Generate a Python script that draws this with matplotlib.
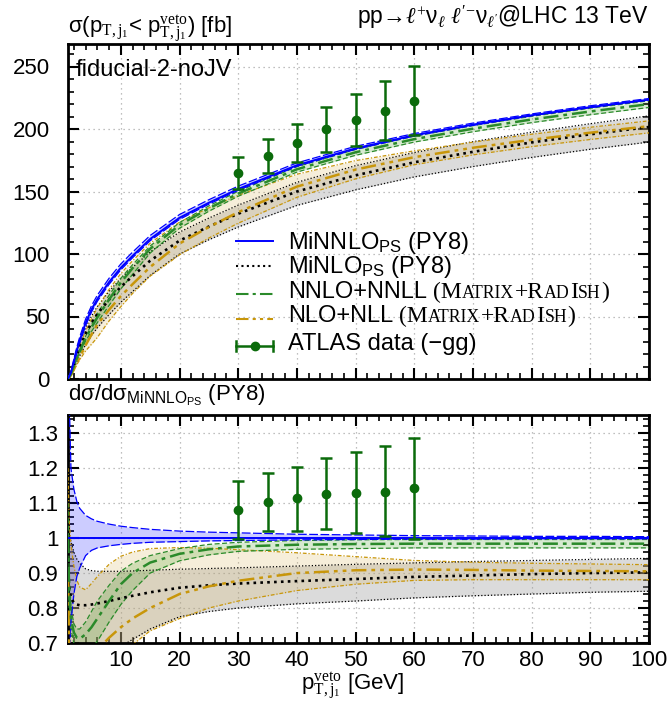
import numpy as np
import matplotlib
matplotlib.use("Agg")
import matplotlib.pyplot as plt
from matplotlib.lines import Line2D
from matplotlib.ticker import MultipleLocator, FuncFormatter

plt.rcParams['font.family'] = ['Liberation Sans', 'DejaVu Sans']
plt.rcParams['mathtext.fontset'] = 'custom'
plt.rcParams['mathtext.rm'] = 'Liberation Serif'
plt.rcParams['mathtext.it'] = 'Liberation Serif:italic'
plt.rcParams['mathtext.sf'] = 'Liberation Sans'
plt.rcParams['mathtext.bf'] = 'Liberation Serif:bold'

# ---------------- data ----------------
pt_veto = [1.0, 1.2, 1.5, 2, 2.5, 3, 4, 5, 6, 8, 10, 12, 15, 20, 25, 30, 40, 50, 60, 70, 80, 90, 100]

# MiNNLO_PS (PY8) central cross section [fb]
minnlo_sigma = [0.3, 2, 5, 14, 23, 31, 45, 55.5, 64, 77.5, 89, 98.5, 112, 129, 141, 152, 171, 184.5, 195, 203.5, 211, 217.5, 223.5]
# ratios to MiNNLO_PS central
minnlo_up = [1.6, 1.4, 1.2, 1.14, 1.105, 1.085, 1.065, 1.055, 1.048, 1.04, 1.034, 1.03, 1.025, 1.02, 1.017, 1.015, 1.011, 1.009, 1.007, 1.006, 1.005, 1.005, 1.004]
minnlo_lo = [0.5, 0.65, 0.76, 0.84, 0.89, 0.915, 0.95, 0.965, 0.972, 0.978, 0.982, 0.985, 0.988, 0.99, 0.992, 0.993, 0.995, 0.996, 0.997, 0.997, 0.998, 0.998, 0.998]

minlo_c = [0.9, 0.86, 0.83, 0.815, 0.81, 0.808, 0.808, 0.81, 0.813, 0.82, 0.828, 0.835, 0.845, 0.858, 0.865, 0.87, 0.877, 0.883, 0.889, 0.893, 0.897, 0.9, 0.902]
minlo_up = [1.05, 1.01, 0.99, 0.96, 0.94, 0.928, 0.912, 0.907, 0.905, 0.905, 0.905, 0.906, 0.908, 0.911, 0.913, 0.915, 0.92, 0.925, 0.929, 0.933, 0.936, 0.939, 0.942]
minlo_lo = [0.6, 0.6, 0.6, 0.6, 0.6, 0.6, 0.61, 0.625, 0.64, 0.665, 0.69, 0.71, 0.74, 0.775, 0.79, 0.8, 0.812, 0.82, 0.829, 0.835, 0.84, 0.845, 0.848]

nnll_c = [1.0, 0.85, 0.77, 0.73, 0.715, 0.712, 0.725, 0.745, 0.77, 0.82, 0.868, 0.9, 0.93, 0.955, 0.968, 0.976, 0.981, 0.983, 0.984, 0.984, 0.984, 0.984, 0.984]
nnll_up = [1.1, 0.9, 0.8, 0.755, 0.74, 0.74, 0.76, 0.79, 0.82, 0.865, 0.905, 0.928, 0.95, 0.97, 0.982, 0.988, 0.993, 0.995, 0.996, 0.996, 0.996, 0.996, 0.996]
nnll_lo = [0.9, 0.8, 0.74, 0.7, 0.685, 0.68, 0.675, 0.685, 0.705, 0.76, 0.81, 0.85, 0.9, 0.935, 0.952, 0.962, 0.968, 0.97, 0.972, 0.972, 0.972, 0.972, 0.972]

nll_c = [0.9, 0.7, 0.6, 0.55, 0.55, 0.56, 0.6, 0.64, 0.68, 0.715, 0.745, 0.77, 0.8, 0.84, 0.862, 0.878, 0.9, 0.908, 0.91, 0.909, 0.907, 0.906, 0.905]
nll_up = [1.2, 1.05, 0.98, 0.92, 0.88, 0.86, 0.852, 0.87, 0.89, 0.925, 0.948, 0.96, 0.97, 0.973, 0.971, 0.967, 0.958, 0.947, 0.936, 0.931, 0.928, 0.926, 0.924]
nll_lo = [0.6, 0.5, 0.5, 0.5, 0.5, 0.5, 0.5, 0.5, 0.52, 0.6, 0.65, 0.695, 0.735, 0.77, 0.80, 0.82, 0.85, 0.868, 0.879, 0.881, 0.881, 0.881, 0.881]

# ATLAS data (-gg)
atlas_x = [30, 35, 40, 45, 50, 55, 60]
atlas_y = [165, 178.5, 189, 200, 207, 214.5, 222.8]
atlas_hi = [177.7, 192.4, 204.4, 217.7, 227.9, 238.5, 250.5]
atlas_lo = [152.4, 165, 173.7, 181.7, 186.3, 191, 195]
atlas_r = [1.08, 1.103, 1.114, 1.127, 1.128, 1.132, 1.143]
atlas_r_hi = [1.164, 1.186, 1.202, 1.228, 1.245, 1.263, 1.287]
atlas_r_lo = [0.998, 1.02, 1.021, 1.025, 1.015, 1.005, 0.998]

# ---------------- styles ----------------
BLUE = '#0000ff'
GREEN = '#2a8a2a'
ORANGE = '#c8960a'
DGREEN = '#0b6b0b'

W, H = 672, 704
fig = plt.figure(figsize=(W / 100, H / 100), dpi=100)
L, R = 68, 649
ax1 = fig.add_axes([L / W, 1 - 379 / H, (R - L) / W, (379 - 44) / H])
ax2 = fig.add_axes([L / W, 1 - 643 / H, (R - L) / W, (643 - 415) / H])

x = np.array(pt_veto)
cen = np.array(minnlo_sigma)

bands = [
    # (lo, central, hi, fillcolor, alpha, color, central ls, lw, edge ls, zorder)
    (minlo_lo, minlo_c, minlo_up, '#999999', 0.35, 'black', (0, (1, 1.6)), 1.9, (0, (1, 1.6)), 1.0),
    (nll_lo, nll_c, nll_up, '#d9b35a', 0.22, ORANGE, (0, (6, 2, 1.5, 2, 1.5, 2)), 1.8, (0, (3, 1.5, 1, 1.5)), 1.1),
    (nnll_lo, nnll_c, nnll_up, '#3a9a1a', 0.2, GREEN, (0, (6, 2, 1.5, 2)), 1.8, (0, (4, 2)), 1.2),
    (minnlo_lo, [1.0] * len(pt_veto), minnlo_up, '#0000ff', 0.2, BLUE, '-', 1.4, (0, (7, 2)), 1.3),
]

for ax, top in ((ax1, True), (ax2, False)):
    f = cen if top else np.ones_like(cen)
    for lo, c, hi, fc, al, col, cls, clw, els, z in bands:
        lo = np.array(lo) * f
        hi = np.array(hi) * f
        c = np.array(c) * f
        ax.fill_between(x, lo, hi, color=fc, alpha=al, lw=0, zorder=z)
        ax.plot(x, lo, color=col, ls=els, lw=0.9, zorder=z + 2)
        ax.plot(x, hi, color=col, ls=els, lw=0.9, zorder=z + 2)
        ax.plot(x, c, color=col, ls=cls, lw=clw, zorder=z + 3)

ya = np.array(atlas_y)
ax1.errorbar(atlas_x, ya, yerr=[ya - np.array(atlas_lo), np.array(atlas_hi) - ya], fmt='o', color=DGREEN,
             ms=6, capsize=4, elinewidth=1.8, capthick=1.8, zorder=10)
yr = np.array(atlas_r)
ax2.errorbar(atlas_x, yr, yerr=[yr - np.array(atlas_r_lo), np.array(atlas_r_hi) - yr], fmt='o', color=DGREEN,
             ms=6, capsize=4, elinewidth=1.8, capthick=1.8, zorder=10)

# ---------------- axes ----------------
for ax in (ax1, ax2):
    ax.set_xlim(1, 100)
    ax.xaxis.set_major_locator(MultipleLocator(10))
    ax.xaxis.set_minor_locator(MultipleLocator(2))
    ax.tick_params(which='both', direction='in', top=True, right=True, labelsize=16)
    ax.tick_params(which='major', length=8, width=1.5)
    ax.tick_params(which='minor', length=4, width=1.2)
    for s in ax.spines.values():
        s.set_linewidth(2)
    ax.grid(True, which='major', color='#aaaaaa', ls=(0, (1, 3)), lw=0.9, zorder=0)
    ax.set_axisbelow(True)

ax1.set_ylim(0, 268)
ax1.yaxis.set_major_locator(MultipleLocator(50))
ax1.yaxis.set_minor_locator(MultipleLocator(10))
ax1.tick_params(labelbottom=False)
ax1.tick_params(axis='y', pad=13)

ax2.set_ylim(0.7, 1.352)
ax2.yaxis.set_major_locator(MultipleLocator(0.1))
ax2.yaxis.set_minor_locator(MultipleLocator(0.02))
ax2.yaxis.set_major_formatter(FuncFormatter(lambda v, p: f'{v:.10g}' if abs(v - round(v, 1)) < 1e-9 else ''))
ax2.xaxis.set_major_formatter(FuncFormatter(lambda v, p: f'{v:g}'))
ax2.tick_params(axis='y', pad=7)
ax2.tick_params(axis='x', pad=5)

# ---------------- texts ----------------
FS = 16
LFS = 17
fig.text(L / W, 1 - 32.5 / H, r'σ(p$_{\mathrm{T,j_1}}$< p$^{\mathrm{veto}}_{\mathrm{T,j_1}}$) [fb]',
         ha='left', va='baseline', fontsize=FS)
fig.text(R / W, 1 - 25 / H, r"pp→$\ell^{+}\mathsf{\nu}_{\ell}\ \ell'^{-}\mathsf{\nu}_{\ell'}$@LHC 13 TeV",
         ha='right', va='baseline', fontsize=FS + 0.5)
fig.text(76 / W, 1 - 75.5 / H, 'fiducial-2-noJV', ha='left', va='baseline', fontsize=LFS)
fig.text(L / W, 1 - 401 / H, r'dσ/dσ$_{\mathsf{MiNNLO}_{\mathsf{PS}}}$ (PY8)', ha='left', va='baseline', fontsize=FS)
fig.text(353 / W, 1 - 690 / H, r'p$^{\mathrm{veto}}_{\mathrm{T,j_1}}$ [GeV]', ha='center', va='baseline', fontsize=FS)

# ---------------- legend (manual) ----------------
renderer = fig.canvas.get_renderer()


def seq_text(x0, yb, pieces):
    xx = x0
    for s, kw, gap in pieces:
        xx += gap
        t = fig.text(xx / W, 1 - yb / H, s, ha='left', va='baseline', **kw)
        bb = t.get_window_extent(renderer)
        xx = bb.x1


sans = dict(fontsize=LFS)
serL = dict(fontsize=LFS, family='Liberation Serif')
serS = dict(fontsize=LFS * 0.75, family='Liberation Serif')
smallcaps = [('(M', serL, 6), ('ATRIX', serS, 0.3), ('+R', serL, 0.3), ('AD', serS, 0.3),
             ('I', serL, 0.3), ('SH', serS, 0.3), (')', serL, 0.5)]

lx0, lx1, tx = 236, 273, 288
rows = [
    (249, 241, dict(color=BLUE, ls='-', lw=1.4), [(r'MiNNLO$_{\mathsf{PS}}$ (PY8)', sans, 0)]),
    (273, 266, dict(color='black', ls=(0, (1, 1.6)), lw=1.5), [(r'MiNLO$_{\mathsf{PS}}$ (PY8)', sans, 0)]),
    (298, 294, dict(color=GREEN, ls=(0, (6, 2, 1.5, 2)), lw=1.5), [('NNLO+NNLL', sans, 0)] + smallcaps),
    (322, 319, dict(color=ORANGE, ls=(0, (6, 2, 1.5, 2, 1.5, 2)), lw=1.5), [('NLO+NLL', sans, 0)] + smallcaps),
]
for yb, yl, st, pieces in rows:
    fig.add_artist(Line2D([lx0 / W, lx1 / W], [1 - yl / H, 1 - yl / H], transform=fig.transFigure, **st))
    seq_text(tx, yb, pieces)

# ATLAS legend entry
yl = 346
fig.add_artist(Line2D([lx0 / W, lx1 / W], [1 - yl / H] * 2, transform=fig.transFigure, color=DGREEN, lw=1.8))
for xc in (lx0, lx1):
    fig.add_artist(Line2D([xc / W] * 2, [1 - (yl - 5) / H, 1 - (yl + 5) / H], transform=fig.transFigure,
                          color=DGREEN, lw=1.8))
fig.add_artist(Line2D([(lx0 + lx1) / 2 / W], [1 - yl / H], transform=fig.transFigure, color=DGREEN,
                      marker='o', ms=6, ls='none'))
seq_text(tx, 350, [('ATLAS data (−gg)', sans, 0)])

fig.savefig('out.png', dpi=100)
